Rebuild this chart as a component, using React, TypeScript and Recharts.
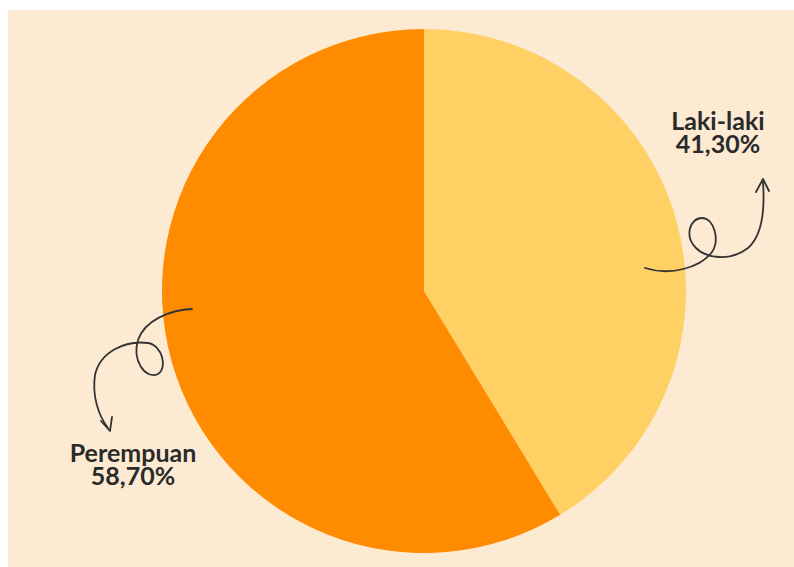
import React from 'react';
import { PieChart, Pie, Cell } from 'recharts';

// share by gender (percent)
const categories = ['Laki-laki', 'Perempuan'];
const shares = [41.3, 58.7];
const COLORS = ['#FFD064', '#FF8C00'];

const data = categories.map((name, i) => ({ name, value: shares[i] }));

// label text + curly arrow, relative to the pie centre
const LABELS = [
    {
        tx: 294, ty: -161,
        arrow: 'M221,-23 C246,-15 276,-23 288,-39 C296,-51 290,-73 278,-73 C266,-73 260,-55 272,-43 C282,-33 306,-29 324,-43 C338,-55 341,-81 339,-109',
        head: 'M332,-99 L339,-112 L345,-100',
    },
    {
        tx: -291, ty: 171,
        arrow: 'M-232,18 C-254,19 -279,29 -286,49 C-292,69 -279,89 -266,83 C-256,77 -262,54 -276,52 C-299,49 -324,61 -329,84 C-332,104 -326,124 -316,137',
        head: 'M-323,130 L-314,140 L-312,126',
    },
];

const fmt = (v: number) => v.toFixed(2).replace('.', ',') + '%';

const renderLabel = (props: any) => {
    const { cx, cy, index, name, value } = props;
    const l = LABELS[index];
    if (!l) return null;
    return (
        <g transform={`translate(${cx},${cy})`}>
            <path d={l.arrow} fill="none" stroke="#333" strokeWidth={1.8} strokeLinecap="round" />
            <path d={l.head} fill="none" stroke="#333" strokeWidth={1.8} strokeLinecap="round" strokeLinejoin="round" />
            <text x={l.tx} y={l.ty} textAnchor="middle" fill="#2a2a2a"
                style={{ fontFamily: 'Lato', fontWeight: 700, fontSize: 25 }}>
                <tspan x={l.tx} y={l.ty}>{name}</tspan>
                <tspan x={l.tx} y={l.ty + 23}>{fmt(value)}</tspan>
            </text>
        </g>
    );
};

export default function App() {
    return (
        <div style={{ position: 'absolute', left: 8, top: 10, width: 786, height: 557, background: '#FCEBD2' }}>
            <PieChart width={786} height={557} margin={{ top: 0, right: 0, bottom: 0, left: 0 }}>
                <Pie
                    data={data}
                    dataKey="value"
                    nameKey="name"
                    cx={416}
                    cy={281}
                    outerRadius={262}
                    startAngle={90}
                    endAngle={-270}
                    stroke="none"
                    label={renderLabel}
                    labelLine={false}
                    isAnimationActive={false}
                >
                    {data.map((entry, index) => (
                        <Cell key={`cell-${index}`} fill={COLORS[index % COLORS.length]} />
                    ))}
                </Pie>
            </PieChart>
        </div>
    );
}
